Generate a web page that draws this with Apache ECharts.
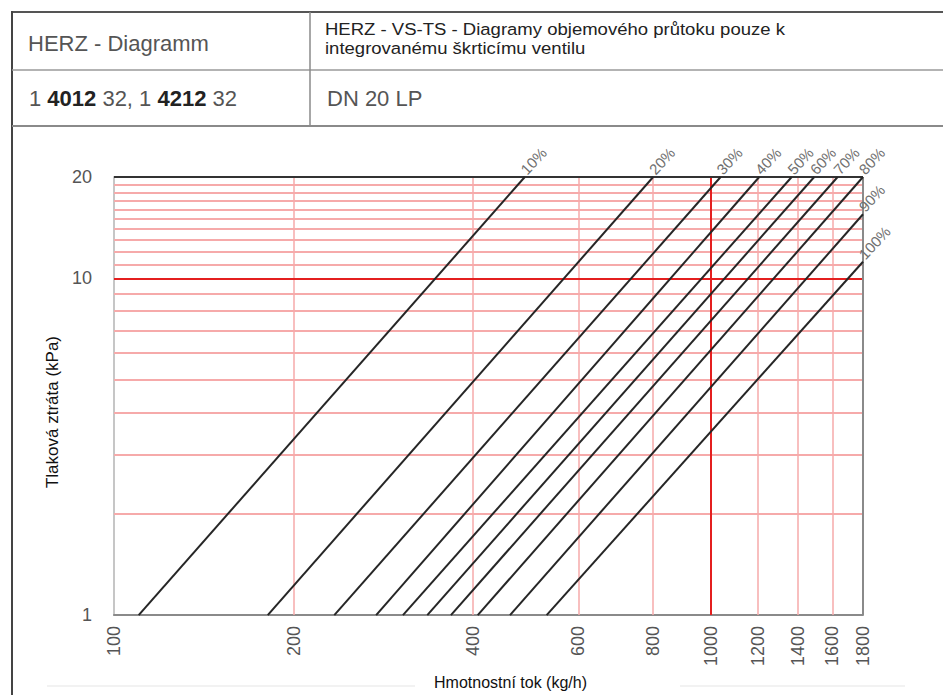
<!DOCTYPE html>
<html>
<head>
<meta charset="utf-8">
<title>HERZ - Diagramm DN 20 LP</title>
<script src="https://cdn.jsdelivr.net/npm/echarts@6/dist/echarts.min.js"></script>
<style>
  html, body { margin: 0; padding: 0; background: #fff; }
  #chart { width: 943px; height: 695px; }
</style>
</head>
<body>
<div id="chart"></div>
<script>
// Valve opening curves: each curve runs from 1 kPa up to its end point
const openings   = ['10%', '20%', '30%', '40%', '50%', '60%', '70%', '80%', '90%', '100%'];
const flowAt1kPa = [110, 181, 234, 275, 305, 335, 367, 407, 461, 531];   // kg/h at 1 kPa
const endFlow    = [488, 801, 1039, 1206, 1367, 1491, 1632, 1800, 1800, 1800]; // kg/h
const endDp      = [20, 20, 20, 20, 20, 20, 20, 20, 15.5, 11.2];           // kPa

// Axis tick labels
const flowTicks = [100, 200, 400, 600, 800, 1000, 1200, 1400, 1600, 1800];
const dpTicks   = [1, 10, 20];

// Grid lines
const dpGridMinor   = [2, 3, 4, 5, 6, 7, 8, 9, 11, 12, 13, 14, 15, 16, 17, 18, 19];
const dpGridMajor   = [10];
const flowGridMinor = [200, 400, 600, 800, 1200, 1400, 1600];
const flowGridMajor = [1000];

const FONT = '"Liberation Sans", Arial, Helvetica, sans-serif';
const minorRed = '#f6aaaa';
const majorRed = '#e41f1f';

const gridLines = []
  .concat(dpGridMinor.map(v => ({ yAxis: v, lineStyle: { color: minorRed, width: 2, type: 'solid' } })))
  .concat(flowGridMinor.map(v => ({ xAxis: v, lineStyle: { color: minorRed, width: 1.5, type: 'solid' } })))
  .concat(dpGridMajor.map(v => ({ yAxis: v, lineStyle: { color: majorRed, width: 2, type: 'solid' } })))
  .concat(flowGridMajor.map(v => ({ xAxis: v, lineStyle: { color: majorRed, width: 2, type: 'solid' } })))
  // frame of the plot: dark top edge at 20 kPa, grey right edge at 1800 kg/h
  .concat([{ yAxis: dpTicks[dpTicks.length - 1], lineStyle: { color: '#333', width: 2, type: 'solid' } }])
  .concat([{ xAxis: flowTicks[flowTicks.length - 1], lineStyle: { color: '#8a8a8a', width: 2, type: 'solid' } }]);

const curveSeries = openings.map((name, i) => ({
  type: 'line',
  name: name,
  silent: true,
  clip: false,
  symbol: 'circle',
  symbolSize: 0,
  showSymbol: true,
  z: 5,
  lineStyle: { color: '#262626', width: 2 },
  itemStyle: { color: '#262626' },
  data: [
    { value: [flowAt1kPa[i], 1], label: { show: false } },
    {
      value: [endFlow[i], endDp[i]],
      label: {
        show: true,
        formatter: name,
        position: 'right',
        distance: 4,
        rotate: 47,
        align: 'left',
        verticalAlign: 'bottom',
        color: '#707070',
        fontSize: 15,
        fontFamily: FONT
      }
    }
  ]
}));

const gridSeries = {
  type: 'line',
  name: 'grid',
  silent: true,
  data: [],
  z: 1,
  markLine: {
    silent: true,
    symbol: 'none',
    animation: false,
    label: { show: false },
    emphasis: { disabled: true },
    data: gridLines
  }
};

const headerGraphics = [
  // table lines
  { type: 'line', shape: { x1: 11, y1: 12, x2: 943, y2: 12 }, style: { stroke: '#555', lineWidth: 2 } },
  { type: 'line', shape: { x1: 12, y1: 11, x2: 12, y2: 695 }, style: { stroke: '#444', lineWidth: 2 } },
  { type: 'line', shape: { x1: 12, y1: 70, x2: 943, y2: 70 }, style: { stroke: '#9a9a9a', lineWidth: 1.5 } },
  { type: 'line', shape: { x1: 12, y1: 126, x2: 943, y2: 126 }, style: { stroke: '#8a8a8a', lineWidth: 2 } },
  { type: 'line', shape: { x1: 310, y1: 12, x2: 310, y2: 126 }, style: { stroke: '#8a8a8a', lineWidth: 1.5 } },
  { type: 'line', shape: { x1: 47, y1: 686, x2: 415, y2: 686 }, style: { stroke: '#eeeeee', lineWidth: 1.5 } },
  { type: 'line', shape: { x1: 680, y1: 686, x2: 905, y2: 686 }, style: { stroke: '#eeeeee', lineWidth: 1.5 } },
  // table texts
  {
    type: 'text', x: 28, y: 43,
    style: { text: 'HERZ - Diagramm', fill: '#555', font: '22px ' + FONT, verticalAlign: 'middle' }
  },
  {
    type: 'text', x: 29, y: 98,
    style: {
      text: '{n|1 }{b|4012}{n| 32, 1 }{b|4212}{n| 32}',
      verticalAlign: 'middle',
      rich: {
        n: { fill: '#555', fontSize: 22, fontFamily: FONT },
        b: { fill: '#222', fontSize: 22, fontFamily: FONT, fontWeight: 'bold' }
      }
    }
  },
  {
    type: 'text', x: 325, y: 29, scaleX: 1.09,
    style: { text: 'HERZ - VS-TS - Diagramy objemového průtoku pouze k', fill: '#222', font: '17px ' + FONT, verticalAlign: 'middle' }
  },
  {
    type: 'text', x: 325, y: 48, scaleX: 1.09,
    style: { text: 'integrovanému škrticímu ventilu', fill: '#222', font: '17px ' + FONT, verticalAlign: 'middle' }
  },
  {
    type: 'text', x: 327, y: 98,
    style: { text: 'DN 20 LP', fill: '#555', font: '22px ' + FONT, verticalAlign: 'middle' }
  }
];

const option = {
  animation: false,
  backgroundColor: '#fff',
  grid: { left: 114, right: 80, top: 177, bottom: 78, containLabel: false },
  xAxis: {
    type: 'log',
    logBase: 10,
    min: 100,
    max: 1800,
    name: 'Hmotnostní tok (kg/h)',
    nameLocation: 'middle',
    nameGap: 44,
    nameTextStyle: { color: '#111', fontSize: 16, fontFamily: FONT, padding: [0, 0, 0, 44] },
    axisLine: { show: true, lineStyle: { color: '#8a8a8a', width: 2 } },
    axisTick: { show: false },
    splitLine: { show: false },
    minorTick: { show: false },
    axisLabel: {
      customValues: flowTicks,
      rotate: 90,
      margin: 11,
      color: '#555',
      fontSize: 18,
      fontFamily: FONT,
      formatter: v => String(Math.round(v))
    }
  },
  yAxis: {
    type: 'log',
    logBase: 10,
    min: 1,
    max: 20,
    name: 'Tlaková ztráta (kPa)',
    nameLocation: 'middle',
    nameRotate: 90,
    nameGap: 45,
    nameTextStyle: { color: '#111', fontSize: 17, fontFamily: FONT, padding: [0, 32, 0, 0] },
    axisLine: { show: true, lineStyle: { color: '#c6c6c6', width: 2 } },
    axisTick: { show: false },
    splitLine: { show: false },
    minorTick: { show: false },
    axisLabel: {
      customValues: dpTicks,
      margin: 22,
      color: '#555',
      fontSize: 18,
      fontFamily: FONT,
      formatter: v => String(Math.round(v))
    }
  },
  graphic: headerGraphics,
  series: [gridSeries].concat(curveSeries)
};

const chart = echarts.init(document.getElementById('chart'), null, { renderer: 'svg' });
chart.setOption(option);
</script>
</body>
</html>
